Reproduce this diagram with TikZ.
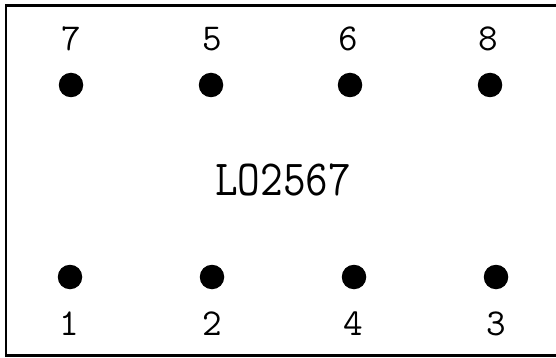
\documentclass[tikz,border=0pt]{standalone}
\usepackage{graphicx}
\begin{document}
\begin{tikzpicture}[x=1pt,y=-1pt,
  pin/.style={circle,fill=black,inner sep=0pt,minimum size=24.5pt},
  lbl/.style={font=\ttfamily\fontsize{38}{38}\selectfont,inner sep=0pt},
  title/.style={font=\ttfamily\fontsize{44}{44}\selectfont,inner sep=0pt}]
\useasboundingbox (0,0) rectangle (556,358);
\draw[line width=2.5pt] (562,5.5) -- (6,5.5) -- (6,355.5) -- (562,355.5);
% top row
\node[pin] (p7) at (71,85) {};
\node[pin] (p5) at (211,85) {};
\node[pin] (p6) at (350,85) {};
\node[pin] (p8) at (490,85) {};
\node[lbl] (l7) at (71,39) {7};
\node[lbl] (l5) at (212,39) {5};
\node[lbl] (l6) at (348,39) {6};
\node[lbl] (l8) at (488,39) {8};
% bottom row
\node[pin] (p1) at (70,277) {};
\node[pin] (p2) at (212,277) {};
\node[pin] (p4) at (354,277) {};
\node[pin] (p3) at (496,277) {};
\node[lbl] (l1) at (69,324) {1};
\node[lbl] (l2) at (212,324) {2};
\node[lbl] (l4) at (353,324) {4};
\node[lbl] (l3) at (496,324) {3};
% title
\node[title] (t) at (283,180) {\scalebox{1}[1.15]{LO2567}};
\end{tikzpicture}
\end{document}
